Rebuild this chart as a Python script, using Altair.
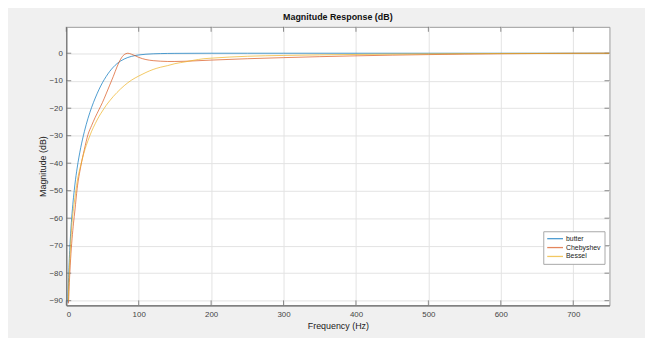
import altair as alt
import pandas as pd

# ---- data ----
butter_f = [2.3, 2.5, 3, 4, 5, 6, 8, 10, 12, 15, 20, 25, 30, 35, 40, 45, 50, 55, 60, 65, 70, 75, 80, 85, 90, 95, 100,
            110, 120, 130, 140, 150, 175, 200, 250, 300, 400, 500, 600, 700, 750]
butter_db = [-90.7, -88.5, -83.7, -76.2, -70.4, -65.7, -58.2, -52.4, -47.6, -41.8, -34.3, -28.5, -23.7, -19.7, -16.3,
             -13.3, -10.7, -8.5, -6.6, -5.05, -3.8, -2.84, -2.1, -1.55, -1.15, -0.86, -0.63,
             -0.36, -0.21, -0.13, -0.08, -0.05, -0.02, 0, 0, 0, 0, 0, 0, 0, 0]

cheby_f = [3, 3.5, 4, 5, 6, 8, 10, 12, 15, 20, 25, 30, 35, 40, 45, 50, 55, 60, 65, 70, 75, 80, 85, 90, 95, 100,
           110, 120, 130, 140, 150, 175, 200, 250, 300, 350, 400, 450, 500, 550, 600, 650, 700, 750]
cheby_db = [-91, -88.5, -85, -79.5, -74.8, -67.5, -61.8, -57, -49.3, -41.2, -35, -29.6, -26.3, -23.3, -20.6, -17.9,
            -14.8, -11.6, -8.4, -5.0, -2.2, -0.5, 0.0, -0.35, -0.9, -1.5,
            -2.3, -2.7, -2.9, -3.0, -3.0, -2.8, -2.5, -2.0, -1.6, -1.25, -0.95, -0.7, -0.5, -0.33, -0.2, -0.1, -0.04, 0]

bessel_f = [2.8, 3, 4, 5, 6, 8, 10, 12, 15, 20, 25, 30, 35, 40, 45, 50, 55, 60, 65, 70, 80, 90, 100,
            110, 120, 130, 140, 150, 165, 175, 190, 200, 225, 250, 300, 350, 400, 450, 500, 550, 600, 650, 700, 750]
bessel_db = [-90, -88, -80.5, -74.5, -69.5, -61.5, -56.5, -52.5, -46.8, -40.7, -35.7, -31.8, -28.4, -25.6, -23.1,
             -21.0, -19.0, -17.3, -15.7, -14.3, -11.8, -9.8, -8.3,
             -7.0, -5.9, -5.1, -4.5, -3.8, -3.1, -2.6, -2.0, -1.8, -1.4, -1.1, -0.8, -0.6, -0.45, -0.33, -0.23,
             -0.15, -0.09, -0.05, -0.02, 0]

series_names = ["butter", "Chebyshev", "Bessel"]
series_colors = ["#0072BD", "#D95319", "#EDB120"]
x_ticks = [0, 100, 200, 300, 400, 500, 600, 700]
y_ticks = [-90, -80, -70, -60, -50, -40, -30, -20, -10, 0]

rows = []
for name, fs, dbs in zip(series_names, [butter_f, cheby_f, bessel_f], [butter_db, cheby_db, bessel_db]):
    for f, d in zip(fs, dbs):
        rows.append({"filter": name, "freq": f, "mag": d})
df = pd.DataFrame(rows)
dfx = pd.DataFrame({"t": x_ticks})
dfy = pd.DataFrame({"t": y_ticks})

W, H = 550, 282
FONT = "Liberation Sans"
xscale = alt.Scale(domain=[0, 750], nice=False, zero=False)
yscale = alt.Scale(domain=[-91.7, 9.6], nice=False, zero=False)
x_axis = alt.Axis(values=x_ticks, orient="bottom", grid=True, gridColor="#e3e3e3", tickSize=0,
                  labelPadding=5, titlePadding=3, domainColor="#6e6e6e", domainWidth=1.2)
y_axis = alt.Axis(values=y_ticks, orient="left", grid=True, gridColor="#e3e3e3", tickSize=0,
                  labelPadding=4, titlePadding=1, domainColor="#6e6e6e", domainWidth=1.2)
XT = "Frequency (Hz)"
YT = "Magnitude (dB)"

lines = alt.Chart(df).mark_line(strokeWidth=1, clip=True, interpolate="monotone", opacity=0.7).encode(
    x=alt.X("freq:Q", scale=xscale, title=XT, axis=x_axis),
    y=alt.Y("mag:Q", scale=yscale, title=YT, axis=y_axis),
    color=alt.Color("filter:N", sort=series_names,
                    scale=alt.Scale(domain=series_names, range=series_colors),
                    legend=alt.Legend(orient="none", legendX=483, legendY=207, title=None,
                                      symbolType="stroke", symbolSize=256, symbolStrokeWidth=1.3,
                                      symbolOpacity=0.7,
                                      labelFontSize=7, labelFont=FONT, labelColor="#222222",
                                      fillColor="white", strokeColor="#a8a8a8", padding=3,
                                      clipHeight=9, rowPadding=0, labelOffset=2)),
)

tick_color = "#6e6e6e"
xt_bottom = alt.Chart(dfx).mark_rule(color=tick_color, strokeWidth=0.8).encode(
    x=alt.X("t:Q", scale=xscale, title=XT, axis=x_axis), y=alt.value(H), y2=alt.value(H - 5))
xt_top = alt.Chart(dfx).mark_rule(color=tick_color, strokeWidth=0.8).encode(
    x=alt.X("t:Q", scale=xscale, title=XT, axis=x_axis), y=alt.value(0), y2=alt.value(5))
yt_left = alt.Chart(dfy).mark_rule(color=tick_color, strokeWidth=0.8).encode(
    y=alt.Y("t:Q", scale=yscale, title=YT, axis=y_axis), x=alt.value(0), x2=alt.value(5))
yt_right = alt.Chart(dfy).mark_rule(color=tick_color, strokeWidth=0.8).encode(
    y=alt.Y("t:Q", scale=yscale, title=YT, axis=y_axis), x=alt.value(W), x2=alt.value(W - 5))

chart = alt.layer(xt_bottom, xt_top, yt_left, yt_right, lines).properties(
    width=W, height=H,
    title=alt.Title("Magnitude Response (dB)", fontSize=9, font=FONT, fontWeight="bold", color="#111111",
                    anchor="middle", offset=5),
    autosize=alt.AutoSizeParams(type="none"),
    padding={"left": 59, "top": 17, "right": 36, "bottom": 31},
    background="#f0f0f0",
).configure_view(
    stroke="#9a9a9a", strokeWidth=1, fill="white"
).configure_axis(
    labelFont=FONT, titleFont=FONT, labelFontSize=8, titleFontSize=9, labelColor="#454545",
    titleColor="#222222", titleFontWeight="normal"
)

chart.save("out.html", embed_options={"renderer": "svg", "actions": False})
